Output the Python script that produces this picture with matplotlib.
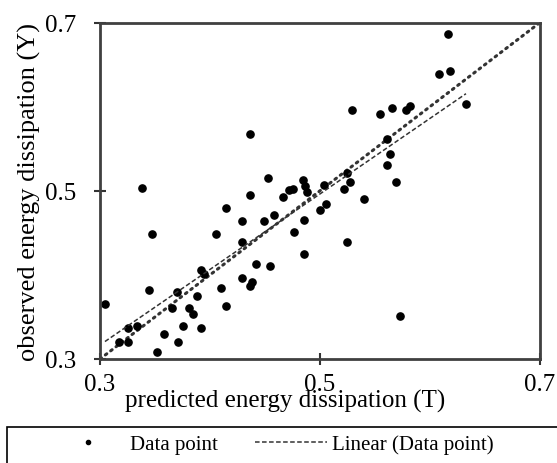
import numpy as np
import matplotlib
matplotlib.use("Agg")
import matplotlib.pyplot as plt
from matplotlib.patches import Rectangle

plt.rcParams["font.family"] = ["Liberation Serif", "DejaVu Serif"]

# predicted (T) and observed (Y) energy dissipation
predicted = [0.3386, 0.4368, 0.4530, 0.4368, 0.4145, 0.3477, 0.4055, 0.4295, 0.4491, 0.4585,
             0.4666, 0.4714, 0.4759, 0.4845, 0.4864, 0.4879, 0.5036, 0.5000, 0.5055, 0.4764,
             0.4857, 0.4857, 0.4295, 0.4418, 0.4548, 0.4294, 0.4382, 0.4368, 0.4100, 0.4145,
             0.3918, 0.3945, 0.3879, 0.3697, 0.3659, 0.3806, 0.3841, 0.3441, 0.3045, 0.3750,
             0.3914, 0.3586, 0.3712, 0.3515, 0.3336, 0.3259, 0.3257, 0.3171, 0.5221, 0.5277,
             0.5241, 0.5403, 0.5605, 0.5636, 0.5605, 0.5693, 0.5241, 0.5294, 0.5545, 0.5655,
             0.5782, 0.5818, 0.6164, 0.6086, 0.6182, 0.6327, 0.5727]
observed = [0.5036, 0.5679, 0.5155, 0.4944, 0.4798, 0.4488, 0.4488, 0.4635, 0.4635, 0.4706,
            0.4923, 0.5004, 0.5015, 0.5125, 0.5054, 0.4988, 0.5063, 0.4774, 0.4839, 0.4515,
            0.4655, 0.4250, 0.4396, 0.4131, 0.4107, 0.3968, 0.3913, 0.3869, 0.3849, 0.3635,
            0.4054, 0.4006, 0.3754, 0.3801, 0.3607, 0.3611, 0.3536, 0.3821, 0.3655, 0.3393,
            0.3369, 0.3298, 0.3206, 0.3083, 0.3396, 0.3369, 0.3199, 0.3199, 0.5015, 0.5107,
            0.5206, 0.4899, 0.5613, 0.5440, 0.5301, 0.5107, 0.4396, 0.5964, 0.5917, 0.5988,
            0.5964, 0.6008, 0.6869, 0.6393, 0.6420, 0.6036, 0.3515]
ticks = [0.3, 0.5, 0.7]

x = np.array(predicted)
y = np.array(observed)
slope, intercept = np.polyfit(x, y, 1)
xfit = np.array([x.min(), x.max()])

fig = plt.figure(figsize=(5.57, 4.64), dpi=100)
ax = fig.add_axes([100 / 557, 1 - 360 / 464, 440 / 557, 336.5 / 464])

# 1:1 line
ax.plot([0.3, 0.7], [0.3, 0.7], color="#333333", linestyle=(0, (0.6, 1.6)), linewidth=2.2,
        dash_capstyle="round")
pts, = ax.plot(x, y, "o", color="black", markersize=5.2, linestyle="none", label="Data point")
trend, = ax.plot(xfit, slope * xfit + intercept, color="#333333", linestyle=(0, (3, 1.6)),
                 linewidth=1.1, label="Linear (Data point)")

ax.set_xlim(0.3, 0.7)
ax.set_ylim(0.3, 0.7)
ax.set_xticks(ticks)
ax.set_yticks(ticks)
ax.set_xticklabels([f"{t:.1f}" for t in ticks])
ax.set_yticklabels([f"{t:.1f}" for t in ticks])
ax.tick_params(direction="inout", length=8.6, width=1.5, labelsize=18, color="#333333")
ax.tick_params(axis="x", pad=5.7)
ax.tick_params(axis="y", pad=12.7)
for s in ax.spines.values():
    s.set_linewidth(2)
    s.set_color("#404040")

ax.set_xlabel("predicted energy dissipation (T)", fontsize=18)
ax.xaxis.set_label_coords(0.42, -0.088)
ax.set_ylabel("observed energy dissipation (Y)", fontsize=19, labelpad=3)

# legend box runs off the bottom right of the image
fig.patches.append(Rectangle((7 / 557, -0.1), 1.2, 0.1 + 36 / 464, transform=fig.transFigure,
                             fill=False, edgecolor="black", linewidth=1.2))
pts_h, = plt.plot([], [], "o", color="black", markersize=3)
fig.legend([pts_h, trend], ["Data point", "Linear (Data point)"], ncol=2, frameon=False,
           loc="center", bbox_to_anchor=(273 / 557, 19 / 464), fontsize=15, handlelength=3.46,
           columnspacing=1.8, handletextpad=0.25)

fig.savefig("out.png", dpi=100)
